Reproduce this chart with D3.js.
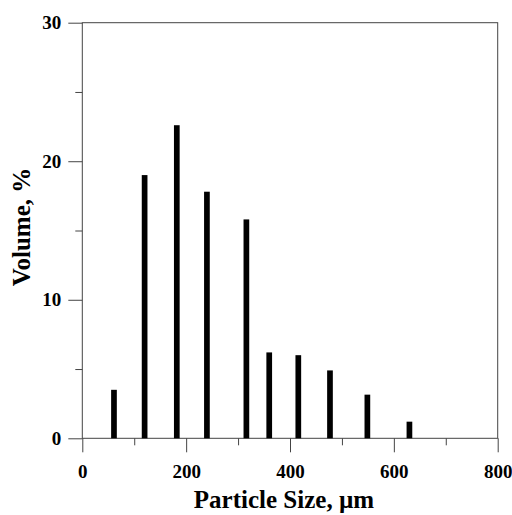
<!DOCTYPE html>
<html>
<head>
<meta charset="utf-8">
<script src="https://cdn.jsdelivr.net/npm/d3@7"></script>
<style>
  body { margin: 0; background: #fff; }
  svg text { font-family: "Liberation Serif", "Times New Roman", serif; font-weight: bold; fill: #000; }
</style>
</head>
<body>
<div id="graph"></div>
<script>
//particle size (um) and volume (%)
var sizes = [61, 120, 182, 240, 316, 360, 416, 477, 549, 630]
var volumes = [3.5, 19.0, 22.6, 17.8, 15.8, 6.2, 6.0, 4.9, 3.15, 1.2]

//tick values
var xMajor = [0, 200, 400, 600, 800]
var xMinor = [100, 300, 500, 700]
var yMajor = [0, 10, 20, 30]
var yMinor = [5, 15, 25]

var W = 512, H = 515
//plot box edges (top is a window property, so use other names)
var plotL = 82.3, plotR = 497.7, plotT = 22.7, plotB = 438.3

var svg = d3.select("#graph")
.append("svg")
  .attr("width", W)
  .attr("height", H)

var x = d3.scaleLinear().domain([0, 800]).range([plotL, plotR])
var y = d3.scaleLinear().domain([0, 30]).range([plotB, plotT])

function styleAxis(g) {
  g.select(".domain").remove()
  g.selectAll("line").attr("stroke", "#444").attr("stroke-width", 1)
}

//x axis
svg.append("g")
  .attr("transform", "translate(0," + plotB + ")")
  .call(d3.axisBottom(x).tickValues(xMajor).tickSize(14).tickPadding(12).tickFormat(d3.format("d")))
  .call(styleAxis)
  .selectAll("text").style("font-size", "19px")

svg.append("g")
  .attr("transform", "translate(0," + plotB + ")")
  .call(d3.axisBottom(x).tickValues(xMinor).tickSize(7).tickFormat(""))
  .call(styleAxis)

//y axis
svg.append("g")
  .attr("transform", "translate(" + plotL + ",0)")
  .call(d3.axisLeft(y).tickValues(yMajor).tickSize(14).tickPadding(7).tickFormat(d3.format("d")))
  .call(styleAxis)
  .selectAll("text").style("font-size", "19px")

svg.append("g")
  .attr("transform", "translate(" + plotL + ",0)")
  .call(d3.axisLeft(y).tickValues(yMinor).tickSize(7).tickFormat(""))
  .call(styleAxis)

//frame
svg.append("rect")
  .attr("x", plotL)
  .attr("y", plotT)
  .attr("width", plotR - plotL)
  .attr("height", plotB - plotT)
  .attr("fill", "none")
  .attr("stroke", "#444")
  .attr("stroke-width", 1)

//bars
var barW = 5.7
svg.selectAll("rect.bar")
.data(sizes)
.enter()
.append("rect")
  .attr("class", "bar")
  .attr("x", function(d){ return x(d) - barW/2 })
  .attr("y", function(d, i){ return y(volumes[i]) })
  .attr("width", barW)
  .attr("height", function(d, i){ return y(0) - y(volumes[i]) })
  .attr("fill", "#000")

//axis titles
svg.append("text")
  .attr("x", 284)
  .attr("y", 508)
  .attr("text-anchor", "middle")
  .style("font-size", "25px")
  .text("Particle Size, \u00b5m")

svg.append("text")
  .attr("transform", "translate(30,227) rotate(-90)")
  .attr("text-anchor", "middle")
  .style("font-size", "25px")
  .text("Volume, %")
</script>
</body>
</html>
